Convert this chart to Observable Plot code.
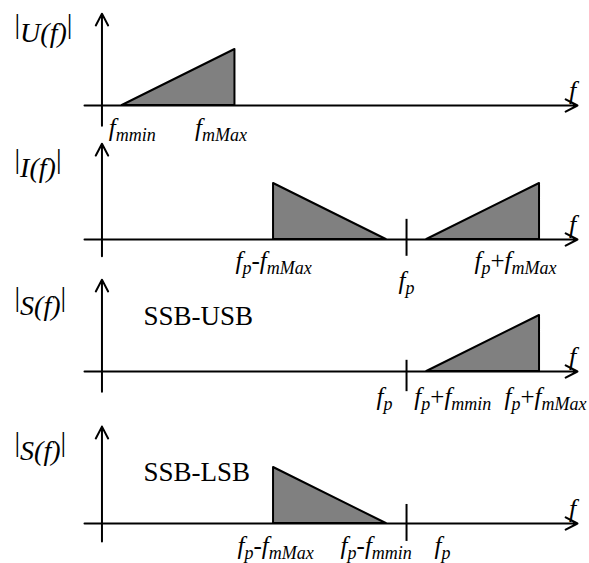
<!DOCTYPE html>
<html>
<head>
<meta charset="utf-8">
<script src="https://cdn.jsdelivr.net/npm/d3@7"></script>
<script src="https://cdn.jsdelivr.net/npm/@observablehq/plot@0.6"></script>
<style>
  html, body { margin: 0; padding: 0; background: #fff; }
  #chart { position: relative; width: 589px; height: 563px; overflow: hidden; background: #fff; }
  #chart svg { position: absolute; left: 0; overflow: visible; }
</style>
</head>
<body>
<div id="chart"></div>
<script>
// Frequencies in arbitrary units: lowest and highest message frequency, carrier
const fmMin = 1;
const fmMax = 6.55;
const fp = 15;

// Panel titles and side notes
const panelTitles = ["U(f)", "I(f)", "S(f)", "S(f)"];
const panelNotes = ["", "", "SSB-USB", "SSB-LSB"];

// Spectral bands: corner points (frequency, relative magnitude)
const bandsU = [
  {band: "m", f: fmMin, a: 0}, {band: "m", f: fmMax, a: 1}
];
const bandsI = [
  {band: "lsb", f: fp - fmMax, a: 1}, {band: "lsb", f: fp - fmMin, a: 0},
  {band: "usb", f: fp + fmMin, a: 0}, {band: "usb", f: fp + fmMax, a: 1}
];
const bandsUSB = [
  {band: "usb", f: fp + fmMin, a: 0}, {band: "usb", f: fp + fmMax, a: 1}
];
const bandsLSB = [
  {band: "lsb", f: fp - fmMax, a: 1}, {band: "lsb", f: fp - fmMin, a: 0}
];

// Frequency labels under each axis (f_{..} marks a subscript)
const ticksU = [
  {f: fmMin, label: "f_{mmin}"}, {f: fmMax, label: "f_{mMax}"}
];
const ticksI = [
  {f: fp - fmMax, label: "f_{p}-f_{mMax}"}, {f: fp, label: "f_{p}"}, {f: fp + fmMax, label: "f_{p}+f_{mMax}"}
];
const ticksUSB = [
  {f: fp, label: "f_{p}"}, {f: fp + fmMin, label: "f_{p}+f_{mmin}"}, {f: fp + fmMax, label: "f_{p}+f_{mMax}"}
];
const ticksLSB = [
  {f: fp - fmMax, label: "f_{p}-f_{mMax}"}, {f: fp - fmMin, label: "f_{p}-f_{mmin}"}, {f: fp, label: "f_{p}"}
];

// Layout of the four stacked panels
const X_DOMAIN = [-0.86, 23.42];
const X_RANGE = [84, 577];
const UNIT = 56; // pixels per unit of magnitude
const SERIF = "'Liberation Serif', 'Times New Roman', serif";
const LABEL_SIZE = 25;
const SUB_SIZE = 18;
const SUB_SHIFT = 5;

const panels = [
  {title: panelTitles[0], note: panelNotes[0], bands: bandsU, ticks: ticksU,
   top: 0, height: 134, base: 105, yAxis: [-0.36, 1.64], carrier: null, titleY: 24, noteY: 0,
   nudge: [[10, 22], [-14, 22]]},
  {title: panelTitles[1], note: panelNotes[1], bands: bandsI, ticks: ticksI,
   top: 134, height: 136, base: 105, yAxis: [-0.30, 1.71], carrier: [-0.30, 0.36], titleY: 25, noteY: 0,
   nudge: [[0, 21], [0, 41], [-24, 21]]},
  {title: panelTitles[2], note: panelNotes[2], bands: bandsUSB, ticks: ticksUSB,
   top: 270, height: 143, base: 101, yAxis: [-0.36, 1.64], carrier: [-0.36, 0.2], titleY: 27, noteY: 46,
   nudge: [[-22, 25], [26, 25], [6, 25]]},
  {title: panelTitles[3], note: panelNotes[3], bands: bandsLSB, ticks: ticksLSB,
   top: 413, height: 150, base: 110, yAxis: [-0.32, 1.73], carrier: [-0.32, 0.34], titleY: 29, noteY: 59,
   nudge: [[2, 22], [-10, 22], [36, 22]]}
];

// Turn "f_{p}+f_{mMax}" into italic letters with lowered subscripts
function subscriptText(node, s) {
  const t = d3.select(node);
  node.textContent = "";
  let shift = 0;
  for (const part of s.split(/(_\{[^}]*\})/).filter(Boolean)) {
    if (part.startsWith("_{")) {
      t.append("tspan")
        .attr("font-size", SUB_SIZE).attr("font-style", "italic")
        .attr("dy", SUB_SHIFT - shift).text(part.slice(2, -1));
      shift = SUB_SHIFT;
    } else {
      for (const seg of part.split(/([+\-])/).filter(Boolean)) {
        const op = seg === "+" || seg === "-";
        t.append("tspan")
          .attr("font-style", op ? "normal" : "italic")
          .attr("dy", -shift).text(seg);
        shift = 0;
      }
    }
  }
}

// "|U(f)|": upright bars, italic lowered function name
function magnitudeText(node, s) {
  const t = d3.select(node);
  node.textContent = "";
  t.append("tspan").attr("font-style", "normal").text("|");
  t.append("tspan").attr("font-style", "italic").attr("dy", 9).text(s.slice(1, -1));
  t.append("tspan").attr("font-style", "normal").attr("dy", -9).text("|");
}

const chart = document.getElementById("chart");

for (const p of panels) {
  const marks = [
    // spectral bands
    Plot.areaY(p.bands, {x: "f", y: "a", z: "band", fill: "#808080", stroke: "#000", strokeWidth: 2}),
    // frequency axis
    Plot.arrow([X_DOMAIN], {x1: d => d[0], x2: d => d[1], y1: () => 0, y2: () => 0,
      stroke: "#000", strokeWidth: 2, headLength: 10, headAngle: 55}),
    // magnitude axis
    Plot.arrow([p.yAxis], {x1: () => 0, x2: () => 0, y1: d => d[0], y2: d => d[1],
      stroke: "#000", strokeWidth: 2, headLength: 10, headAngle: 55}),
    // frequency axis name
    Plot.text(["f"], {x: () => X_DOMAIN[1], y: () => 0, text: d => d, dx: -5, dy: -15,
      fontSize: 26, fontStyle: "italic", fontFamily: SERIF, fill: "#000"}),
    // panel title
    Plot.text([p.title], {frameAnchor: "top-left", text: d => `|${d}|`, dx: 14, dy: p.titleY,
      textAnchor: "start", lineAnchor: "middle", fontSize: 28, fontFamily: SERIF, fill: "#000"})
  ];
  if (p.carrier) {
    marks.push(Plot.ruleX([fp], {x: d => d, y1: () => p.carrier[0], y2: () => p.carrier[1],
      stroke: "#000", strokeWidth: 2}));
  }
  if (p.note) {
    marks.push(Plot.text([p.note], {frameAnchor: "top-left", text: d => d, dx: 143, dy: p.noteY,
      textAnchor: "start", lineAnchor: "middle", fontSize: 27, fontFamily: SERIF, fill: "#000"}));
  }
  p.ticks.forEach((t, i) => {
    marks.push(Plot.text([t], {x: "f", y: () => 0, text: "label",
      dx: p.nudge[i][0], dy: p.nudge[i][1], textAnchor: "middle", lineAnchor: "middle",
      fontSize: LABEL_SIZE, fontFamily: SERIF, fill: "#000"}));
  });

  const svg = Plot.plot({
    width: 589,
    height: p.height,
    margin: 0,
    style: {background: "transparent", overflow: "visible", fontFamily: SERIF},
    x: {domain: X_DOMAIN, range: X_RANGE, axis: null},
    y: {domain: [0, 1], range: [p.base, p.base - UNIT], axis: null},
    marks
  });

  d3.select(svg).selectAll("text").each(function () {
    const s = this.textContent;
    if (s.includes("_{")) subscriptText(this, s);
    else if (/^\|.*\|$/.test(s)) magnitudeText(this, s);
  });

  svg.style.top = p.top + "px";
  chart.appendChild(svg);
}
</script>
</body>
</html>
